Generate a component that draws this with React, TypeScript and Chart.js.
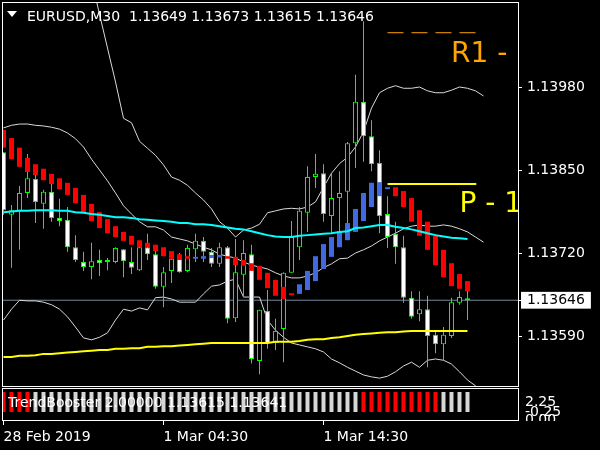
import React, { useEffect, useRef } from 'react';
import { Chart, registerables } from 'chart.js';

Chart.register(...registerables);

// ---------------- data ----------------
const SYMBOL = 'EURUSD';
const PERIOD = 'M30';

const OPEN = [
  1.13878, 1.13780, 1.13786, 1.13814, 1.13836, 1.13797, 1.13816, 1.13775, 1.13772, 1.13729,
  1.13706, 1.13698, 1.13709, 1.13709, 1.13706, 1.13726, 1.13706, 1.13693, 1.13729, 1.13718,
  1.13667, 1.13692, 1.13711, 1.13692, 1.13726, 1.13739, 1.13722, 1.13703, 1.13729, 1.13618,
  1.13686, 1.13718, 1.13551, 1.13629, 1.13579, 1.13601, 1.13689, 1.13729, 1.13783, 1.13839,
  1.13845, 1.13778, 1.13806, 1.13816, 1.13892, 1.13957, 1.13903, 1.13861, 1.13781, 1.13750,
  1.13729, 1.13650, 1.13624, 1.13632, 1.13592, 1.13577, 1.13590, 1.13642, 1.13649,
];
const HIGH = [
  1.13878, 1.13795, 1.13825, 1.13875, 1.13842, 1.13819, 1.13828, 1.13805, 1.13792, 1.13748,
  1.13722, 1.13736, 1.13725, 1.13712, 1.13729, 1.13726, 1.13729, 1.13736, 1.13750, 1.13723,
  1.13698, 1.13715, 1.13720, 1.13733, 1.13750, 1.13745, 1.13728, 1.13736, 1.13731, 1.13742,
  1.13740, 1.13733, 1.13631, 1.13662, 1.13617, 1.13690, 1.13770, 1.13792, 1.13856, 1.13875,
  1.13859, 1.13844, 1.13848, 1.13894, 1.13999, 1.14083, 1.13928, 1.13881, 1.13809, 1.13769,
  1.13747, 1.13660, 1.13660, 1.13653, 1.13599, 1.13604, 1.13650, 1.13660, 1.13673,
];
const LOW = [
  1.13780, 1.13697, 1.13725, 1.13806, 1.13767, 1.13758, 1.13769, 1.13762, 1.13722, 1.13706,
  1.13692, 1.13679, 1.13684, 1.13693, 1.13704, 1.13682, 1.13687, 1.13692, 1.13709, 1.13664,
  1.13635, 1.13673, 1.13689, 1.13690, 1.13706, 1.13706, 1.13698, 1.13698, 1.13610, 1.13612,
  1.13651, 1.13547, 1.13530, 1.13570, 1.13568, 1.13549, 1.13689, 1.13709, 1.13753, 1.13822,
  1.13769, 1.13751, 1.13751, 1.13753, 1.13853, 1.13863, 1.13848, 1.13751, 1.13728, 1.13703,
  1.13642, 1.13617, 1.13613, 1.13541, 1.13563, 1.13552, 1.13587, 1.13639, 1.13615,
];
const CLOSE = [
  1.13787, 1.13787, 1.13814, 1.13837, 1.13800, 1.13816, 1.13775, 1.13770, 1.13729, 1.13709,
  1.13698, 1.13707, 1.13704, 1.13706, 1.13728, 1.13707, 1.13697, 1.13729, 1.13718, 1.13667,
  1.13690, 1.13711, 1.13690, 1.13728, 1.13739, 1.13722, 1.13703, 1.13729, 1.13617, 1.13690,
  1.13720, 1.13554, 1.13631, 1.13579, 1.13598, 1.13689, 1.13745, 1.13786, 1.13839, 1.13844,
  1.13781, 1.13806, 1.13814, 1.13892, 1.13957, 1.13903, 1.13859, 1.13778, 1.13745, 1.13729,
  1.13650, 1.13620, 1.13632, 1.13590, 1.13577, 1.13592, 1.13643, 1.13651, 1.13646,
];

// TrendBooster ribbon (main window)
const TB_TOP = [
  1.13913, 1.13900, 1.13885, 1.13869, 1.13859, 1.13852, 1.13844, 1.13837, 1.13830, 1.13822,
  1.13811, 1.13797, 1.13784, 1.13773, 1.13762, 1.13753, 1.13747, 1.13740, 1.13736, 1.13733,
  1.13729, 1.13723, 1.13718, 1.13715, 1.13714, 1.13715, 1.13717, 1.13717, 1.13715, 1.13714,
  1.13709, 1.13704, 1.13700, 1.13689, 1.13678, 1.13667, 1.13657, 1.13671, 1.13692, 1.13715,
  1.13734, 1.13745, 1.13754, 1.13767, 1.13789, 1.13814, 1.13830, 1.13831, 1.13823, 1.13823,
  1.13817, 1.13806, 1.13787, 1.13769, 1.13747, 1.13725, 1.13704, 1.13687, 1.13676,
];
const TB_BOTTOM = [
  1.13885, 1.13867, 1.13855, 1.13847, 1.13842, 1.13834, 1.13828, 1.13820, 1.13811, 1.13798,
  1.13783, 1.13770, 1.13759, 1.13751, 1.13745, 1.13739, 1.13733, 1.13729, 1.13729, 1.13723,
  1.13715, 1.13711, 1.13709, 1.13711, 1.13711, 1.13711, 1.13712, 1.13713, 1.13711, 1.13701,
  1.13700, 1.13692, 1.13678, 1.13665, 1.13653, 1.13648, 1.13654, 1.13656, 1.13662, 1.13676,
  1.13695, 1.13714, 1.13729, 1.13740, 1.13753, 1.13770, 1.13792, 1.13809, 1.13820, 1.13809,
  1.13792, 1.13769, 1.13747, 1.13725, 1.13701, 1.13682, 1.13668, 1.13664, 1.13660,
];
const TB_DIR = [
  -1, -1, -1, -1, -1, -1, -1, -1, -1, -1,
  -1, -1, -1, -1, -1, -1, -1, -1, -1, -1,
  -1, -1, -1, -1, 1, 1, 1, 1, -1, -1,
  -1, -1, -1, -1, -1, -1, -1, 1, 1, 1,
  1, 1, 1, 1, 1, 1, 1, 1, 1, -1,
  -1, -1, -1, -1, -1, -1, -1, -1, -1,
];

// Bollinger bands (61 bars: drawn two bars past the last candle)
const BB_UPPER = [
  1.14217, 1.14212, 1.14198, 1.14199, 1.14196, 1.14195, 1.14196, 1.14196, 1.14195, 1.14195,
  1.14185, 1.14148, 1.14094, 1.14041, 1.13988, 1.13931, 1.13924, 1.13895, 1.13884, 1.13873,
  1.13858, 1.13839, 1.13834, 1.13826, 1.13814, 1.13803, 1.13789, 1.13769, 1.13759, 1.13745,
  1.13756, 1.13759, 1.13765, 1.13783, 1.13786, 1.13789, 1.13790, 1.13789, 1.13792, 1.13800,
  1.13823, 1.13845, 1.13860, 1.13870, 1.13886, 1.13910, 1.13947, 1.13971, 1.13978, 1.13982,
  1.13978, 1.13978, 1.13980, 1.13974, 1.13971, 1.13971, 1.13975, 1.13980, 1.13978, 1.13974,
  1.13966,
];
const BB_MIDDLE = [
  1.13916, 1.13920, 1.13922, 1.13922, 1.13920, 1.13919, 1.13917, 1.13914, 1.13908, 1.13899,
  1.13886, 1.13867, 1.13850, 1.13833, 1.13814, 1.13794, 1.13781, 1.13769, 1.13761, 1.13761,
  1.13756, 1.13745, 1.13742, 1.13739, 1.13734, 1.13729, 1.13725, 1.13718, 1.13715, 1.13712,
  1.13706, 1.13701, 1.13698, 1.13695, 1.13689, 1.13684, 1.13681, 1.13681, 1.13684, 1.13689,
  1.13697, 1.13703, 1.13711, 1.13712, 1.13720, 1.13725, 1.13731, 1.13739, 1.13745, 1.13751,
  1.13758, 1.13762, 1.13764, 1.13762, 1.13762, 1.13764, 1.13762, 1.13758, 1.13753, 1.13745,
  1.13737,
];
const BB_LOWER = [
  1.13615, 1.13632, 1.13646, 1.13645, 1.13645, 1.13643, 1.13639, 1.13632, 1.13620, 1.13604,
  1.13587, 1.13584, 1.13588, 1.13595, 1.13615, 1.13632, 1.13629, 1.13634, 1.13631, 1.13650,
  1.13651, 1.13648, 1.13643, 1.13643, 1.13643, 1.13656, 1.13668, 1.13670, 1.13676, 1.13679,
  1.13651, 1.13651, 1.13651, 1.13615, 1.13599, 1.13588, 1.13579, 1.13576, 1.13573, 1.13570,
  1.13565, 1.13554, 1.13548, 1.13541, 1.13535, 1.13529, 1.13526, 1.13524, 1.13527, 1.13534,
  1.13543, 1.13549, 1.13541, 1.13552, 1.13554, 1.13552, 1.13546, 1.13534, 1.13521, 1.13512,
  1.13502,
];

// Moving averages
const MA_FAST = [
  1.13784, 1.13785, 1.13786, 1.13786, 1.13787, 1.13787, 1.13787, 1.13786, 1.13786, 1.13784,
  1.13783, 1.13781, 1.13780, 1.13778, 1.13776, 1.13776, 1.13775, 1.13773, 1.13772, 1.13771,
  1.13770, 1.13769, 1.13767, 1.13767, 1.13765, 1.13765, 1.13764, 1.13762, 1.13760, 1.13758,
  1.13757, 1.13754, 1.13751, 1.13748, 1.13746, 1.13745, 1.13745, 1.13747, 1.13748, 1.13749,
  1.13750, 1.13751, 1.13753, 1.13754, 1.13759, 1.13760, 1.13762, 1.13764, 1.13764, 1.13761,
  1.13759, 1.13757, 1.13754, 1.13751, 1.13748, 1.13746, 1.13744, 1.13743, 1.13742,
];
const MA_SLOW = [
  1.13557, 1.13557, 1.13559, 1.13559, 1.13560, 1.13562, 1.13562, 1.13563, 1.13564, 1.13565,
  1.13566, 1.13567, 1.13568, 1.13568, 1.13570, 1.13570, 1.13571, 1.13571, 1.13573, 1.13573,
  1.13574, 1.13574, 1.13575, 1.13576, 1.13577, 1.13578, 1.13579, 1.13579, 1.13579, 1.13579,
  1.13579, 1.13579, 1.13579, 1.13579, 1.13581, 1.13581, 1.13581, 1.13582, 1.13584, 1.13585,
  1.13585, 1.13587, 1.13588, 1.13590, 1.13592, 1.13593, 1.13594, 1.13595, 1.13596, 1.13596,
  1.13597, 1.13598, 1.13598, 1.13598, 1.13598, 1.13598, 1.13598, 1.13598, 1.13598,
];

// Levels
const BID = 1.13646;
const PIVOT = 1.13828;
const R1 = 1.14065;
const LEVEL_FROM_BAR = 48;
const LEVEL_TO_BAR = 59.1;

const PRICE_TICKS = [1.1359, 1.1372, 1.1385, 1.1398];
const TIME_LABELS = ['28 Feb 2019', '1 Mar 04:30', '1 Mar 14:30'];
const TIME_LABEL_BARS = [0, 20, 40];

// TrendBooster sub-window
const SUB_NAME = 'TrendBooster';
const SUB_VALUES = [
  2, 2, 2, 2, 2, 2, 2, 2, 2, 2,
  2, 2, 2, 2, 2, 2, 2, 2, 2, 2,
  2, 2, 2, 2, 2, 2, 2, 2, 2, 2,
  2, 2, 2, 2, 2, 2, 2, 2, 2, 2,
  2, 2, 2, 2, 2, 2, 2, 2, 2, 2,
  2, 2, 2, 2, 2, 2, 2, 2, 2,
];
const SUB_DIR = [
  -1, -1, -1, -1, 0, 0, 0, 0, 0, 0,
  0, 0, 0, 0, 0, 0, 0, 0, 0, 0,
  0, 0, 0, 0, 0, 0, 0, 0, 0, 0,
  0, 0, 0, 0, 0, 0, 0, 0, 0, 0,
  0, 0, 0, 0, 0, -1, -1, -1, -1, -1,
  -1, -1, -1, -1, -1, 0, 0, 0, 0,
];
const SUB_BUFFERS = [1.13615, 1.13641];
const SUB_SCALE_LABELS = ['2.25', '-0.25', '0.00'];

// ---------------- layout (not data) ----------------
const FONT = 'DejaVu Sans';
const X_MIN = -0.0625;
const X_MAX = 64.4375;
const Y_MIN = 1.13510124;
const Y_MAX = 1.14111571;
const SUB_MIN = -0.9;
const SUB_MAX = 2.3;

const BULL_GREEN = '#00ff00';

function lineSet(label: string, values: number[], color: string, width: number, order: number, extra: any = {}) {
  return {
    type: 'line',
    label,
    data: values.map((v, i) => ({ x: i, y: v })),
    borderColor: color,
    backgroundColor: color,
    borderWidth: width,
    pointRadius: 0,
    tension: 0,
    fill: false,
    order,
    ...extra,
  };
}

const mainDecor = {
  id: 'mainDecor',
  afterDatasetsDraw(chart: any) {
    const { ctx, chartArea: a, scales } = chart;
    const x = scales.x;
    const y = scales.y;
    ctx.save();
    ctx.beginPath();
    ctx.rect(a.left, a.top, a.right - a.left, a.bottom - a.top);
    ctx.clip();
    ctx.font = `28px "${FONT}"`;
    ctx.textBaseline = 'alphabetic';
    ctx.textAlign = 'left';
    const lx = x.getPixelForValue(LEVEL_FROM_BAR);
    ctx.fillStyle = '#ffa500';
    ctx.fillText(`R1 - ${R1.toFixed(5)}`, lx + 63.5, y.getPixelForValue(R1) + 29);
    ctx.fillStyle = '#ffff00';
    ctx.fillText(`P - ${PIVOT.toFixed(5)}`, lx + 72, y.getPixelForValue(PIVOT) + 28);
    ctx.restore();
  },
  afterDraw(chart: any) {
    const { ctx, chartArea: a } = chart;
    ctx.save();
    ctx.strokeStyle = '#ffffff';
    ctx.lineWidth = 1;
    ctx.strokeRect(a.left - 0.5, a.top - 0.5, a.right - a.left, a.bottom - a.top);
    // header
    ctx.fillStyle = '#ffffff';
    ctx.beginPath();
    ctx.moveTo(7, 11);
    ctx.lineTo(17, 11);
    ctx.lineTo(12, 17);
    ctx.closePath();
    ctx.fill();
    const n = CLOSE.length - 1;
    const hdr = `${SYMBOL},${PERIOD}  ${OPEN[n].toFixed(5)} ${HIGH[n].toFixed(5)} ${LOW[n].toFixed(5)} ${CLOSE[n].toFixed(5)}`;
    ctx.font = `14px "${FONT}"`;
    ctx.textBaseline = 'alphabetic';
    ctx.textAlign = 'left';
    ctx.fillText(hdr, 27, 20.5);
    ctx.restore();
  },
};

const subDecor = {
  id: 'subDecor',
  afterDraw(chart: any) {
    const { ctx, chartArea: a } = chart;
    ctx.save();
    ctx.strokeStyle = '#ffffff';
    ctx.lineWidth = 1;
    ctx.strokeRect(a.left - 0.5, a.top - 0.5, a.right - a.left, a.bottom - a.top);
    const n = SUB_VALUES.length - 1;
    ctx.font = `14px "${FONT}"`;
    ctx.fillStyle = '#ffffff';
    ctx.textBaseline = 'alphabetic';
    ctx.textAlign = 'left';
    ctx.fillText(
      `${SUB_NAME} ${SUB_VALUES[n].toFixed(5)} ${SUB_BUFFERS[0].toFixed(5)} ${SUB_BUFFERS[1].toFixed(5)}`,
      8,
      18.5
    );
    ctx.beginPath();
    ctx.rect(a.right, 0, 600 - a.right, a.bottom);
    ctx.clip();
    const baselines = [17.5, 28, 35.5];
    SUB_SCALE_LABELS.forEach((t, i) => ctx.fillText(t, a.right + 6, baselines[i]));
    ctx.restore();
  },
};

function mainConfig(): any {
  const idx = OPEN.map((_, i) => i);
  const bull = (i: number) => CLOSE[i] >= OPEN[i];
  return {
    type: 'bar',
    data: {
      datasets: [
        lineSet('bid', [], '#778899', 1, 20, {
          data: [
            { x: X_MIN, y: BID },
            { x: X_MAX, y: BID },
          ],
        }),
        lineSet('BB upper', BB_UPPER, '#d9d9d9', 1, 15),
        lineSet('BB middle', BB_MIDDLE, '#d9d9d9', 1, 15),
        lineSet('BB lower', BB_LOWER, '#d9d9d9', 1, 15),
        {
          type: 'bar',
          label: 'wick',
          data: idx.map((i) => ({ x: i, y: [LOW[i], HIGH[i]] })),
          backgroundColor: BULL_GREEN,
          borderWidth: 0,
          barThickness: 1,
          grouped: false,
          inflateAmount: 0,
          order: 12,
        },
        {
          type: 'bar',
          label: 'body',
          data: idx.map((i) => ({ x: i, y: [OPEN[i], CLOSE[i]] })),
          backgroundColor: idx.map((i) => (bull(i) ? '#000000' : '#ffffff')),
          borderColor: BULL_GREEN,
          borderWidth: 1,
          borderSkipped: false,
          barThickness: 5,
          grouped: false,
          inflateAmount: 0,
          order: 11,
        },
        {
          type: 'bar',
          label: 'TrendBooster',
          data: idx.map((i) => ({ x: i, y: [TB_BOTTOM[i], TB_TOP[i]] })),
          backgroundColor: idx.map((i) => (TB_DIR[i] > 0 ? '#4169e1' : '#ff0000')),
          borderWidth: 0,
          barThickness: 5,
          grouped: false,
          inflateAmount: 0,
          order: 10,
        },
        lineSet('MA slow', MA_SLOW, '#ffff00', 2, 6),
        lineSet('MA fast', MA_FAST, '#00ffff', 2, 5),
        lineSet('P', [], '#ffff00', 2, 3, {
          data: [
            { x: LEVEL_FROM_BAR, y: PIVOT },
            { x: LEVEL_TO_BAR, y: PIVOT },
          ],
        }),
        lineSet('R1', [], '#ffa500', 1, 3, {
          borderDash: [16, 8],
          data: [
            { x: LEVEL_FROM_BAR, y: R1 },
            { x: LEVEL_TO_BAR, y: R1 },
          ],
        }),
      ],
    },
    options: {
      responsive: false,
      maintainAspectRatio: false,
      animation: false,
      devicePixelRatio: 1,
      events: [],
      layout: { padding: { left: 3, top: 3, bottom: 1, right: 0 } },
      plugins: { legend: { display: false }, tooltip: { enabled: false }, title: { display: false } },
      scales: {
        x: { type: 'linear', display: false, offset: false, min: X_MIN, max: X_MAX, grid: { offset: false } },
        y: {
          type: 'linear',
          position: 'right',
          min: Y_MIN,
          max: Y_MAX,
          afterBuildTicks: (s: any) => {
            s.ticks = [...PRICE_TICKS, BID].sort((p, q) => p - q).map((v) => ({ value: v }));
          },
          afterFit: (s: any) => {
            s.width = 81;
            s.paddingTop = 0;
            s.paddingBottom = 0;
          },
          grid: { display: true, drawOnChartArea: false, drawTicks: true, tickLength: 3, color: '#ffffff' },
          border: { display: false },
          ticks: {
            autoSkip: false,
            padding: 5,
            font: { family: FONT, size: 14 },
            color: (c: any) => (c.tick && c.tick.value === BID ? '#000000' : '#ffffff'),
            callback: (v: any) => Number(v).toFixed(5),
            showLabelBackdrop: (c: any) => !!(c.tick && c.tick.value === BID),
            backdropColor: '#ffffff',
            backdropPadding: { top: 0, bottom: 0, left: 6, right: 6 },
          },
        },
      },
    },
    plugins: [mainDecor],
  };
}

function subConfig(): any {
  const idx = SUB_VALUES.map((_, i) => i);
  return {
    type: 'bar',
    data: {
      datasets: [
        {
          label: SUB_NAME,
          data: idx.map((i) => ({ x: i, y: SUB_VALUES[i] })),
          backgroundColor: idx.map((i) => (SUB_DIR[i] < 0 ? '#ff0000' : '#d6d6d6')),
          borderWidth: 0,
          barThickness: 4,
          grouped: false,
          inflateAmount: 0,
        },
      ],
    },
    options: {
      responsive: false,
      maintainAspectRatio: false,
      animation: false,
      devicePixelRatio: 1,
      events: [],
      layout: { padding: { left: 3, top: 1, bottom: 0, right: 81 } },
      plugins: { legend: { display: false }, tooltip: { enabled: false } },
      scales: {
        x: {
          type: 'linear',
          position: 'bottom',
          offset: false,
          min: X_MIN,
          max: X_MAX,
          afterBuildTicks: (s: any) => {
            s.ticks = TIME_LABEL_BARS.map((v) => ({ value: v }));
          },
          afterFit: (s: any) => {
            s.height = 29;
            s.paddingLeft = 0;
            s.paddingRight = 0;
          },
          grid: { display: true, offset: false, drawOnChartArea: false, drawTicks: true, tickLength: 4, color: '#ffffff' },
          border: { display: false },
          ticks: {
            autoSkip: false,
            align: 'start',
            maxRotation: 0,
            minRotation: 0,
            padding: 4,
            color: '#ffffff',
            font: { family: FONT, size: 14 },
            callback: (_v: any, i: number) => TIME_LABELS[i],
          },
        },
        y: { type: 'linear', display: false, min: SUB_MIN, max: SUB_MAX },
      },
    },
    plugins: [subDecor],
  };
}

export default function App() {
  const mainRef = useRef<HTMLCanvasElement>(null);
  const subRef = useRef<HTMLCanvasElement>(null);
  useEffect(() => {
    document.body.style.margin = '0';
    document.body.style.background = '#000';
    const main = new Chart(mainRef.current as HTMLCanvasElement, mainConfig());
    const sub = new Chart(subRef.current as HTMLCanvasElement, subConfig());
    return () => {
      main.destroy();
      sub.destroy();
    };
  }, []);
  return (
    <div
      style={{
        position: 'fixed',
        left: 0,
        top: 0,
        width: 600,
        height: 450,
        background: '#000',
        overflow: 'hidden',
      }}
    >
      <canvas ref={mainRef} width={600} height={388} style={{ position: 'absolute', left: 0, top: 0 }} />
      <canvas ref={subRef} width={600} height={62} style={{ position: 'absolute', left: 0, top: 388 }} />
    </div>
  );
}
